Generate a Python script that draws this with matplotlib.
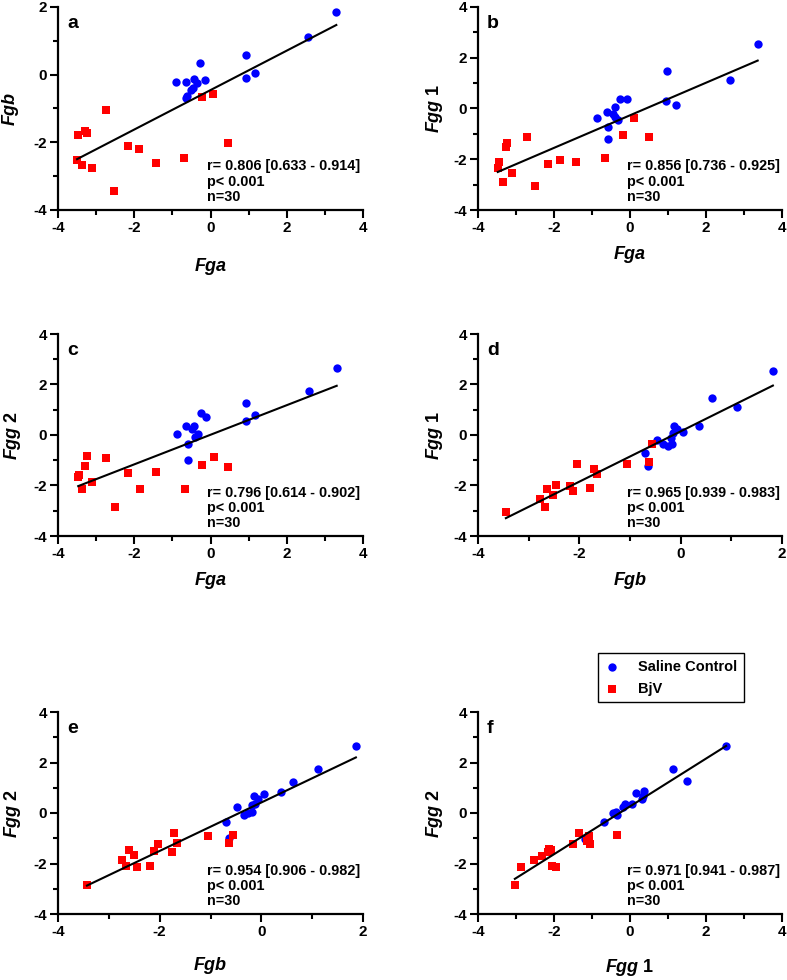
import numpy as np
import matplotlib
matplotlib.use('Agg')
import matplotlib.pyplot as plt
from matplotlib.ticker import MultipleLocator

plt.rcParams['font.family'] = ['Liberation Sans', 'DejaVu Sans']
plt.rcParams['font.weight'] = 'bold'
plt.rcParams['axes.unicode_minus'] = False
plt.rcParams['mathtext.fontset'] = 'custom'
plt.rcParams['mathtext.rm'] = 'Liberation Sans:bold'
plt.rcParams['mathtext.bf'] = 'Liberation Sans:bold'
plt.rcParams['mathtext.it'] = 'Liberation Sans:italic:bold'

# ---------------- data ----------------
# panel a : Fga vs Fgb
a_sal_x = [3.30, 2.57, 0.94, 0.92, 1.17, -0.28, -0.90, -0.65, -0.42, -0.35, -0.14, -0.50, -0.63, -0.46, -0.61]
a_sal_y = [1.84, 1.10, 0.59, -0.10, 0.04, 0.35, -0.21, -0.21, -0.14, -0.26, -0.17, -0.46, -0.68, -0.38, -0.64]
a_bjv_x = [-0.23, 0.06, -2.74, -3.47, -3.30, -3.25, -2.17, -1.87, 0.45, -3.50, -3.37, -3.12, -1.43, -0.70, -2.52]
a_bjv_y = [-0.66, -0.56, -1.05, -1.78, -1.66, -1.72, -2.12, -2.20, -2.03, -2.51, -2.67, -2.75, -2.62, -2.45, -3.43]

# panel b : Fga vs Fgg 1
b_sal_x = [3.36, 2.63, 0.98, 0.96, 1.21, -0.26, -0.09, -0.40, -0.87, -0.61, -0.46, -0.32, -0.39, -0.58, -0.57]
b_sal_y = [2.53, 1.11, 1.48, 0.29, 0.15, 0.37, 0.37, 0.05, -0.38, -0.15, -0.20, -0.45, -0.33, -0.71, -1.19]
b_bjv_x = [0.11, 0.49, -0.19, -0.67, -1.41, -1.83, -2.15, -2.72, -2.49, -3.23, -3.27, -3.10, -3.35, -3.44, -3.48]
b_bjv_y = [-0.36, -1.12, -1.06, -1.97, -2.11, -2.02, -2.19, -1.12, -3.05, -1.36, -1.52, -2.55, -2.88, -2.10, -2.35]

# panel c : Fga vs Fgg 2
c_sal_x = [3.31, 2.58, 0.94, 0.93, 1.18, -0.26, -0.12, -0.88, -0.64, -0.42, -0.48, -0.33, -0.41, -0.60, -0.59]
c_sal_y = [2.66, 1.74, 1.25, 0.55, 0.79, 0.88, 0.70, 0.03, 0.36, 0.36, 0.24, 0.03, -0.07, -0.36, -0.99]
c_bjv_x = [-0.22, 0.08, 0.46, -0.68, -1.42, -1.85, -2.16, -2.74, -2.51, -3.24, -3.30, -3.45, -3.47, -3.36, -3.11]
c_bjv_y = [-1.18, -0.88, -1.25, -2.13, -1.45, -2.13, -1.51, -0.91, -2.86, -0.82, -1.21, -1.58, -1.68, -2.13, -1.86]

# panel d : Fgb vs Fgg 1
d_sal_x = [1.12, 0.62, 0.37, 0.05, -0.14, -0.07, -0.15, -0.19, -0.34, -0.25, -0.18, -0.47, -0.71, -0.65, 1.82]
d_sal_y = [1.09, 1.46, 0.36, 0.12, 0.36, 0.25, 0.07, -0.13, -0.36, -0.45, -0.36, -0.20, -0.71, -1.21, 2.53]
d_bjv_x = [-0.56, -0.63, -1.05, -2.04, -1.72, -1.66, -1.78, -2.19, -2.12, -2.46, -2.63, -2.51, -2.77, -2.68, -3.45]
d_bjv_y = [-0.36, -1.05, -1.13, -1.13, -1.36, -1.53, -2.09, -2.03, -2.20, -1.99, -2.12, -2.37, -2.53, -2.87, -3.04]

# panel e : Fgb vs Fgg 2
e_sal_x = [1.86, 1.11, 0.62, 0.38, 0.06, -0.14, -0.07, -0.13, -0.19, -0.47, -0.18, -0.26, -0.34, -0.70, -0.64]
e_sal_y = [2.64, 1.73, 1.24, 0.85, 0.77, 0.68, 0.55, 0.35, 0.33, 0.22, 0.04, 0.00, -0.08, -0.35, -0.98]
e_bjv_x = [-0.55, -0.63, -1.04, -1.71, -1.65, -1.76, -2.03, -2.11, -2.20, -2.61, -2.50, -2.75, -2.66, -2.44, -3.43]
e_bjv_y = [-0.89, -1.19, -0.92, -0.81, -1.20, -1.56, -1.24, -1.52, -2.10, -1.46, -1.67, -1.87, -2.09, -2.12, -2.84]

# panel f : Fgg 1 vs Fgg 2
f_sal_x = [2.53, 1.13, 1.49, 0.38, 0.16, 0.35, 0.31, 0.05, -0.12, -0.18, -0.35, -0.44, -0.69, -1.18, -0.37]
f_sal_y = [2.64, 1.74, 1.25, 0.89, 0.79, 0.67, 0.55, 0.34, 0.36, 0.24, -0.08, 0.00, -0.36, -1.01, 0.05]
f_bjv_x = [-0.34, -1.33, -1.08, -1.05, -1.12, -1.51, -2.09, -2.15, -2.32, -2.53, -2.04, -1.96, -2.86, -3.03, -2.13]
f_bjv_y = [-0.89, -0.80, -0.92, -1.21, -1.12, -1.21, -1.47, -1.55, -1.71, -1.88, -2.11, -2.13, -2.13, -2.86, -1.42]

panel_letters = ['a', 'b', 'c', 'd', 'e', 'f']
x_labels = [r'$\mathit{Fga}$', r'$\mathit{Fga}$', r'$\mathit{Fga}$', r'$\mathit{Fgb}$', r'$\mathit{Fgb}$', r'$\mathit{Fgg}$ 1']
y_labels = [r'$\mathit{Fgb}$', r'$\mathit{Fgg}$ 1', r'$\mathit{Fgg}$ 2', r'$\mathit{Fgg}$ 1', r'$\mathit{Fgg}$ 2', r'$\mathit{Fgg}$ 2']
stats_text = [
    'r= 0.806 [0.633 - 0.914]\np< 0.001\nn=30',
    'r= 0.856 [0.736 - 0.925]\np< 0.001\nn=30',
    'r= 0.796 [0.614 - 0.902]\np< 0.001\nn=30',
    'r= 0.965 [0.939 - 0.983]\np< 0.001\nn=30',
    'r= 0.954 [0.906 - 0.982]\np< 0.001\nn=30',
    'r= 0.971 [0.941 - 0.987]\np< 0.001\nn=30',
]
x_limits = [(-4, 4), (-4, 4), (-4, 4), (-4, 2), (-4, 2), (-4, 4)]
y_limits = [(-4, 2), (-4, 4), (-4, 4), (-4, 4), (-4, 4), (-4, 4)]
series_names = ['Saline Control', 'BjV']

panels = [
    (a_sal_x, a_sal_y, a_bjv_x, a_bjv_y),
    (b_sal_x, b_sal_y, b_bjv_x, b_bjv_y),
    (c_sal_x, c_sal_y, c_bjv_x, c_bjv_y),
    (d_sal_x, d_sal_y, d_bjv_x, d_bjv_y),
    (e_sal_x, e_sal_y, e_bjv_x, e_bjv_y),
    (f_sal_x, f_sal_y, f_bjv_x, f_bjv_y),
]

# ---------------- layout ----------------
W, H = 787, 980
fig = plt.figure(figsize=(W / 100, H / 100), dpi=100)

# axes boxes in pixels: left, top, right, bottom
boxes = [
    (58, 7, 363, 210), (478, 7, 782, 210),
    (58, 334, 363, 536), (478, 334, 782, 536),
    (58, 712, 363, 914), (478, 712, 782, 914),
]
xlabel_off = [46, 34, 34, 34, 41, 43]   # px below axis bottom (label top)
ylabel_off = [37, 33, 35, 33, 35, 33]   # px left of axis (label right edge)

blue = '#0000FF'
red = '#FF0000'
handles = []
for i, (box, data) in enumerate(zip(boxes, panels)):
    l, t, r, b = box
    ax = fig.add_axes([l / W, 1 - b / H, (r - l) / W, (b - t) / H])
    sx, sy, bx, by = data
    h1 = ax.scatter(sx, sy, s=36, marker='o', color=blue, linewidths=0, zorder=3)
    h2 = ax.scatter(bx, by, s=32, marker='s', color=red, linewidths=0, zorder=3)
    if i == 0:
        handles = [h1, h2]
    allx = np.array(sx + bx)
    ally = np.array(sy + by)
    k, c0 = np.polyfit(allx, ally, 1)
    xx = np.array([allx.min(), allx.max()])
    ax.plot(xx, k * xx + c0, color='black', lw=1.5, zorder=4)

    ax.set_xlim(*x_limits[i])
    ax.set_ylim(*y_limits[i])
    ax.xaxis.set_major_locator(MultipleLocator(2))
    ax.xaxis.set_minor_locator(MultipleLocator(1))
    ax.yaxis.set_major_locator(MultipleLocator(2))
    ax.yaxis.set_minor_locator(MultipleLocator(1))
    for side in ['top', 'right']:
        ax.spines[side].set_visible(False)
    for side in ['left', 'bottom']:
        ax.spines[side].set_linewidth(1.6)
    ax.tick_params(which='major', length=6, width=1.5, labelsize=11, pad=2)
    ax.tick_params(which='minor', length=3.5, width=1.5)
    for lab in ax.get_xticklabels() + ax.get_yticklabels():
        lab.set_fontweight('bold')

    ax.set_xlabel(x_labels[i], fontsize=13, fontweight='bold')
    ax.set_ylabel(y_labels[i], fontsize=13, fontweight='bold')
    ax.xaxis.set_label_coords(0.5, -xlabel_off[i] / (b - t))
    ax.yaxis.set_label_coords(-ylabel_off[i] / (r - l), 0.5)

    ax.text(0.03, 0.92, panel_letters[i], transform=ax.transAxes,
            fontsize=14, fontweight='bold', va='center', ha='left')
    ax.text(0.49, 0.25, stats_text[i], transform=ax.transAxes,
            fontsize=10.4, fontweight='bold', va='top', ha='left', linespacing=1.12)

leg = fig.legend(handles, series_names, loc='upper left',
                 bbox_to_anchor=(598 / W, 1 - 653 / H), borderaxespad=0,
                 frameon=True, fancybox=False, edgecolor='black', framealpha=1,
                 prop={'weight': 'bold', 'size': 10.5}, handletextpad=1.3,
                 borderpad=0.45, labelspacing=0.55, handlelength=1.0,
                 scatterpoints=1)
leg.get_frame().set_linewidth(1.0)

fig.savefig('out.png', dpi=100)
